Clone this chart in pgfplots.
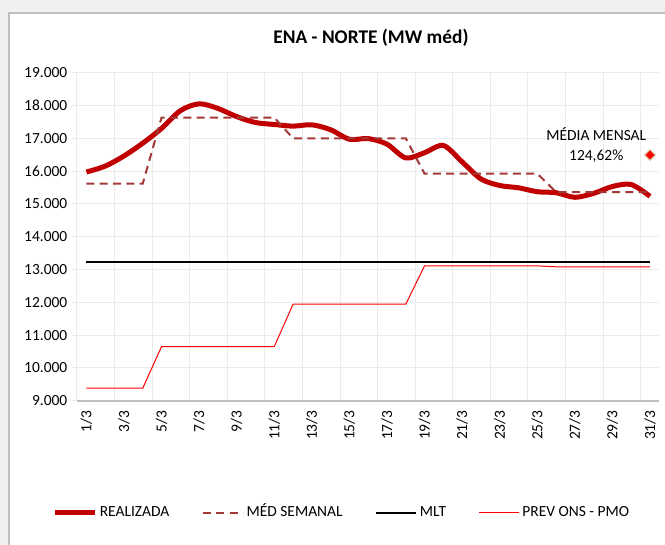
\documentclass[border=0pt]{standalone}
\usepackage{fontspec}
\setmainfont{Carlito}
\usepackage{pgfplots}
\pgfplotsset{compat=1.18}
\definecolor{realizada}{RGB}{192,0,0}
\definecolor{semanal}{RGB}{163,58,58}
\definecolor{prevons}{RGB}{255,0,0}
\definecolor{gridgray}{RGB}{235,235,235}
\definecolor{axisgray}{RGB}{191,191,191}
\definecolor{pagegray}{RGB}{240,240,240}
\newcommand{\lbl}{\fontsize{11.6}{13.9}\selectfont}

\begin{document}
\begin{tikzpicture}
\useasboundingbox (0,0) rectangle (498.75pt,-408.75pt);
\fill[pagegray] (0,0) rectangle (498.75pt,-408.75pt);
\filldraw[fill=white, draw=axisgray, line width=1pt] (6.75pt,-9.75pt) rectangle (520pt,-430pt);
\node[anchor=base, font=\fontsize{14.5}{17}\selectfont\bfseries] at (278.25pt,-33pt) {ENA - NORTE (MW méd)};
\begin{axis}[
  at={(57.75pt,-300.5pt)}, anchor=south west,
  scale only axis, width=436.8pt, height=246pt,
  xmin=0.5, xmax=31.5, ymin=9000, ymax=19000,
  xtick={1,3,...,31},
  xticklabels={1/3,3/3,5/3,7/3,9/3,11/3,13/3,15/3,17/3,19/3,21/3,23/3,25/3,27/3,29/3,31/3},
  minor xtick={0.5,2.5,...,30.5},
  ytick={9000,10000,...,19000},
  xminorgrids=true, ymajorgrids=true,
  grid style={draw=gridgray, line width=0.75pt},
  minor grid style={draw=gridgray, line width=0.75pt},
  axis x line*=bottom, axis y line*=left,
  x axis line style={draw=axisgray, line width=1.5pt, -},
  y axis line style={draw=gridgray, line width=0.75pt, -},
  tick align=outside, major tick length=3.75pt, minor tick length=0pt,
  xtick style={draw=none}, ytick style={draw=gridgray, line width=0.75pt},
  tick label style={font=\lbl},
  /pgf/number format/assume math mode=true,
  scaled y ticks=false,
  yticklabel style={/pgf/number format/.cd, fixed, 1000 sep={.}},
  xticklabel style={rotate=90, anchor=east},
  legend style={at={(rel axis cs:0.455,-0.342)}, anchor=center, draw=none, fill=none,
    legend columns=4, font=\lbl,
    nodes={text height=8pt, text depth=2pt},
    /tikz/every even column/.append style={column sep=22.5pt}},
  legend image code/.code={\draw[#1] (0pt,0pt) -- (30pt,0pt);},
]
\addplot[realizada, line width=3.75pt, smooth, tension=0.5] coordinates {
  (1,15970) (2,16150) (3,16460) (4,16850) (5,17300) (6,17840) (7,18050)
  (8,17910) (9,17660) (10,17480) (11,17420) (12,17370) (13,17410) (14,17260)
  (15,16970) (16,16990) (17,16820) (18,16400) (19,16560) (20,16780) (21,16280)
  (22,15760) (23,15560) (24,15490) (25,15370) (26,15340) (27,15200) (28,15320)
  (29,15530) (30,15590) (31,15230)
};
\addlegendentry{REALIZADA}
\addplot[semanal, line width=1.5pt, dash pattern=on 6pt off 4pt] coordinates {
  (1,15620) (2,15620) (3,15620) (4,15620)
  (5,17630) (6,17630) (7,17630) (8,17630) (9,17630) (10,17630) (11,17630)
  (12,17000) (13,17000) (14,17000) (15,17000) (16,17000) (17,17000) (18,17000)
  (19,15920) (20,15920) (21,15920) (22,15920) (23,15920) (24,15920) (25,15920)
  (26,15360) (27,15360) (28,15360) (29,15360) (30,15360) (31,15360)
};
\addlegendentry{MÉD SEMANAL}
\addplot[black, line width=1.5pt] coordinates {(1,13220) (31,13220)};
\addlegendentry{MLT}
\addplot[prevons, line width=0.75pt] coordinates {
  (1,9380) (2,9380) (3,9380) (4,9380)
  (5,10650) (6,10650) (7,10650) (8,10650) (9,10650) (10,10650) (11,10650)
  (12,11940) (13,11940) (14,11940) (15,11940) (16,11940) (17,11940) (18,11940)
  (19,13110) (20,13110) (21,13110) (22,13110) (23,13110) (24,13110) (25,13110)
  (26,13080) (27,13080) (28,13080) (29,13080) (30,13080) (31,13080)
};
\addlegendentry{PREV ONS - PMO}
\addplot[only marks, mark=square*, mark size=2.8pt,
  mark options={rotate=45, fill=red, draw={rgb,255:red,205;green,195;blue,150}, line width=0.6pt},
  forget plot] coordinates {(31,16490)};
\node[anchor=base, font=\lbl] at (axis cs:28.14,16918) {MÉDIA MENSAL};
\node[anchor=base, font=\lbl] at (axis cs:28.14,16317) {124,62\%};
\end{axis}
\end{tikzpicture}
\end{document}
